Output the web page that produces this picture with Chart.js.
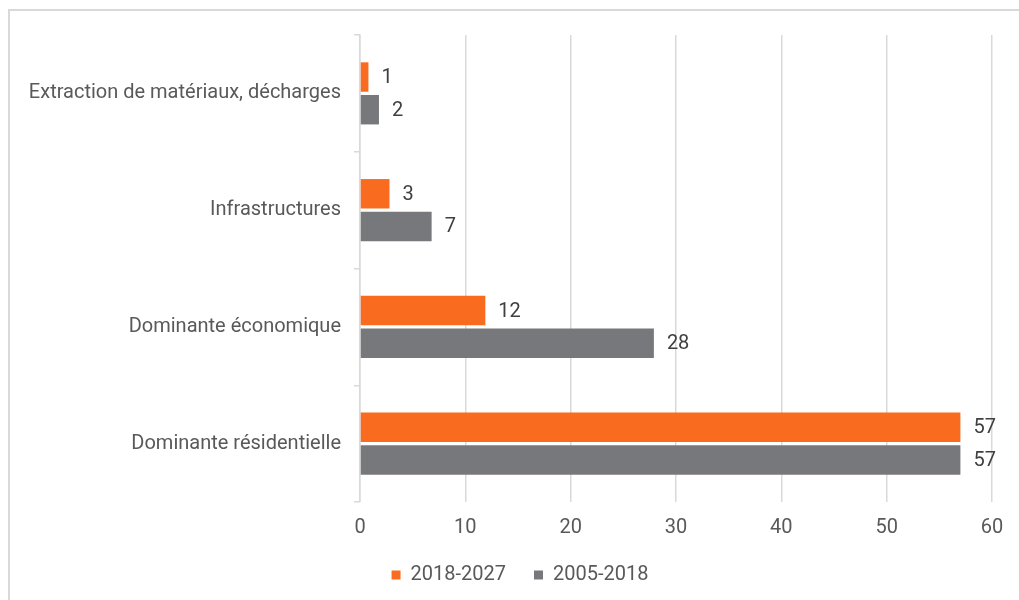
<!DOCTYPE html>
<html>
<head>
<meta charset="utf-8">
<script src="https://cdn.jsdelivr.net/npm/chart.js@4"></script>
<style>
  html, body { margin: 0; padding: 0; background: #fff; overflow: hidden; }
  #frame { position: absolute; left: 8px; top: 9px; width: 1100px; height: 700px;
           border-left: 2px solid #d9d9d9; border-top: 2px solid #d9d9d9; }
  #wrap { position: absolute; left: 0; top: 0; width: 1019px; height: 600px; }
</style>
</head>
<body>
<div id="frame"></div>
<div id="wrap"><canvas id="landChart"></canvas></div>
<script>
// Categories, top to bottom
const categories = [
  "Extraction de matériaux, décharges",
  "Infrastructures",
  "Dominante économique",
  "Dominante résidentielle",
];
const seriesNames = ["2018-2027", "2005-2018"];
// Values (labels are rounded)
const values20182027 = [0.8, 2.8, 11.9, 57.0];
const values20052018 = [1.8, 6.8, 27.9, 57.0];
const xTicks = [0, 10, 20, 30, 40, 50, 60];

const ORANGE = "#F96B1E";
const GREY = "#77787B";
const TEXT = "#595959";
const GRID = "#d9d9d9";
const FONT = "Roboto";

Chart.defaults.font.family = FONT;
Chart.defaults.font.size = 20;
Chart.defaults.color = TEXT;

// Draws the value next to the end of each bar
const barValueLabels = {
  id: "barValueLabels",
  afterDatasetsDraw(chart) {
    const ctx = chart.ctx;
    ctx.save();
    ctx.font = "20px " + FONT;
    ctx.fillStyle = "#404040";
    ctx.textAlign = "left";
    ctx.textBaseline = "middle";
    chart.data.datasets.forEach((ds, i) => {
      chart.getDatasetMeta(i).data.forEach((bar, j) => {
        ctx.fillText(String(Math.round(ds.data[j])), bar.x + 13, bar.y + 1);
      });
    });
    ctx.restore();
  },
};

// Nudge the legend a bit to the right, like the original
const legendShift = {
  id: "legendShift",
  afterLayout(chart) {
    if (chart.legend) {
      chart.legend.left += 24;
      chart.legend.right += 24;
    }
  },
};

new Chart(document.getElementById("landChart"), {
  type: "bar",
  data: {
    labels: categories,
    datasets: [
      {
        label: seriesNames[0],
        data: values20182027,
        backgroundColor: ORANGE,
        categoryPercentage: 0.56,
        barPercentage: 0.9,
      },
      {
        label: seriesNames[1],
        data: values20052018,
        backgroundColor: GREY,
        categoryPercentage: 0.56,
        barPercentage: 0.9,
      },
    ],
  },
  options: {
    indexAxis: "y",
    responsive: true,
    maintainAspectRatio: false,
    animation: false,
    layout: { padding: { top: 35, right: 27, bottom: 5, left: 0 } },
    plugins: {
      tooltip: { enabled: false },
      legend: {
        position: "bottom",
        labels: {
          boxWidth: 9,
          boxHeight: 9,
          padding: 28,
          color: TEXT,
          font: { size: 20, family: FONT },
        },
      },
    },
    scales: {
      x: {
        min: 0,
        max: 60,
        afterBuildTicks(scale) {
          scale.ticks = xTicks.map((v) => ({ value: v }));
        },
        grid: { color: GRID, lineWidth: 1.5, drawTicks: false },
        border: { display: false },
        ticks: { padding: 14, color: TEXT },
        afterFit(scale) { scale.height = 35; },
      },
      y: {
        grid: {
          offset: true,
          drawOnChartArea: false,
          color: GRID,
          lineWidth: 1.5,
          tickLength: 6,
        },
        border: { display: true, color: GRID, width: 1.5 },
        ticks: { padding: 13, color: TEXT },
        afterFit(scale) { scale.width = 360; },
      },
    },
  },
  plugins: [barValueLabels, legendShift],
});
</script>
</body>
</html>
